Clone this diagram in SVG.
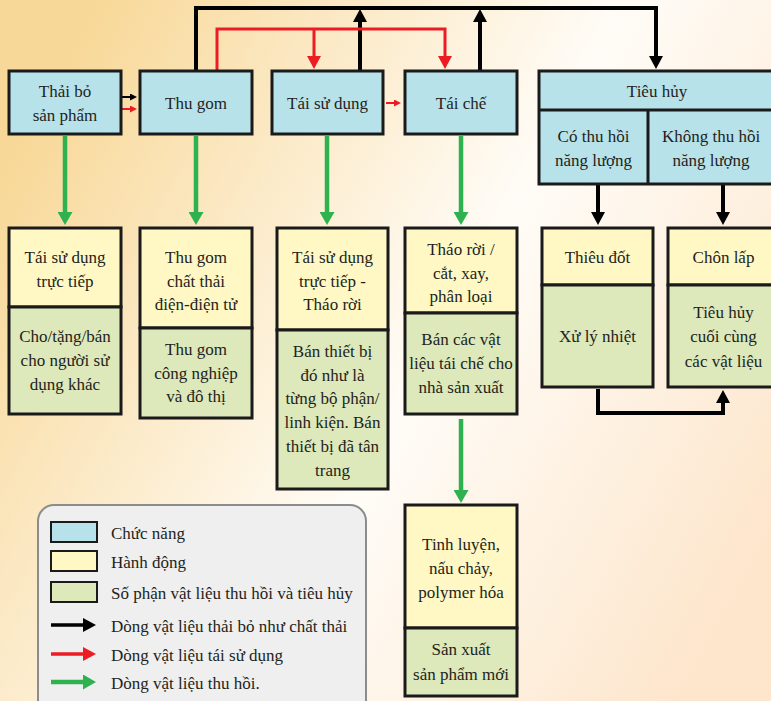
<svg xmlns="http://www.w3.org/2000/svg" width="771" height="701" viewBox="0 0 771 701">
<defs>
<linearGradient id="bg" x1="0" y1="0.25" x2="1" y2="0.75">
<stop offset="0" stop-color="#f8d898"/>
<stop offset="0.55" stop-color="#fffcf7"/>
<stop offset="1" stop-color="#fde6cc"/>
</linearGradient>
<marker id="mk-black" markerUnits="userSpaceOnUse" markerWidth="13" markerHeight="14" refX="3" refY="7" orient="auto"><path d="M0,0 L13,7 L0,14 z" fill="#000"/></marker>
<marker id="mk-red" markerUnits="userSpaceOnUse" markerWidth="13" markerHeight="14" refX="3" refY="7" orient="auto"><path d="M0,0 L13,7 L0,14 z" fill="#ed1c24"/></marker>
<marker id="mk-green" markerUnits="userSpaceOnUse" markerWidth="13" markerHeight="15" refX="3" refY="7.5" orient="auto"><path d="M0,0 L13,7.5 L0,15 z" fill="#2db24f"/></marker>
<marker id="mk-black-s" markerUnits="userSpaceOnUse" markerWidth="7" markerHeight="7" refX="1" refY="3.5" orient="auto"><path d="M0,0 L7,3.5 L0,7 z" fill="#000"/></marker>
<marker id="mk-red-s" markerUnits="userSpaceOnUse" markerWidth="7" markerHeight="7" refX="1" refY="3.5" orient="auto"><path d="M0,0 L7,3.5 L0,7 z" fill="#ed1c24"/></marker>
</defs>
<style>
text{font-family:"Liberation Serif","Times New Roman",serif;font-size:17px;fill:#231f20;text-anchor:middle}
.leg text{text-anchor:start}
.box{stroke:#1a1a1a;stroke-width:3}
.blue{fill:#b8e2ea}
.yel{fill:#fff8c4}
.grn{fill:#dde8bb}
.div{stroke:#1a1a1a;stroke-width:3;fill:none}
.bk{fill:none;stroke:#000;stroke-width:4;marker-end:url(#mk-black)}
.bk0{fill:none;stroke:#000;stroke-width:4}
.rd{fill:none;stroke:#ed1c24;stroke-width:3;marker-end:url(#mk-red)}
.rd0{fill:none;stroke:#ed1c24;stroke-width:3}
.gr{fill:none;stroke:#2db24f;stroke-width:4.5;marker-end:url(#mk-green)}
.bks{fill:none;stroke:#000;stroke-width:2;marker-end:url(#mk-black-s)}
.rds{fill:none;stroke:#ed1c24;stroke-width:2;marker-end:url(#mk-red-s)}
</style>
<rect x="0" y="0" width="771" height="701" fill="url(#bg)"/>

<g id="connectors">
<path class="bk" d="M196,71 V8 H656 V59"/>
<path class="bk" d="M360,71 V19"/>
<path class="bk" d="M480,71 V19"/>
<path class="rd" d="M217,71 V29 H445 V59"/>
<path class="rd" d="M314,29 V59"/>
<path class="bks" d="M122,97 H131"/>
<path class="rds" d="M122,109 H131"/>
<path class="rds" d="M386,103 H395"/>
<path class="gr" d="M65,136 V215"/>
<path class="gr" d="M196,136 V215"/>
<path class="gr" d="M327,136 V215"/>
<path class="gr" d="M461,136 V215"/>
<path class="gr" d="M461,419 V493"/>
<path class="bk" d="M598,185 V215"/>
<path class="bk" d="M723,185 V215"/>
<path class="bk" d="M598,389 V413 H723 V400"/>
</g>

<g id="thai-bo">
<rect class="box blue" x="9" y="71" width="112" height="63"/>
<text x="65" y="97">Thải bỏ</text>
<text x="65" y="121">sản phẩm</text>
</g>
<g id="thu-gom">
<rect class="box blue" x="140" y="71" width="112" height="63"/>
<text x="196" y="109">Thu gom</text>
</g>
<g id="tai-su-dung">
<rect class="box blue" x="272" y="71" width="111" height="63"/>
<text x="327.5" y="109">Tái sử dụng</text>
</g>
<g id="tai-che">
<rect class="box blue" x="405" y="71" width="112" height="63"/>
<text x="461" y="109">Tái chế</text>
</g>
<g id="tieu-huy">
<rect class="box blue" x="539" y="71" width="236" height="113"/>
<path class="div" d="M539,110 H775 M648,110 V184"/>
<text x="657" y="97">Tiêu hủy</text>
<text x="593.5" y="142">Có thu hồi</text>
<text x="593.5" y="166">năng lượng</text>
<text x="711" y="142">Không thu hồi</text>
<text x="711" y="166">năng lượng</text>
</g>

<g id="tai-su-dung-truc-tiep">
<rect class="box yel" x="9" y="228" width="112" height="79"/>
<rect class="box grn" x="9" y="307" width="112" height="107"/>
<text x="65" y="263">Tái sử dụng</text>
<text x="65" y="287">trực tiếp</text>
<text x="65" y="342">Cho/tặng/bán</text>
<text x="65" y="366">cho người sử</text>
<text x="65" y="390">dụng khác</text>
</g>
<g id="thu-gom-chat-thai">
<rect class="box yel" x="140" y="228" width="112" height="100"/>
<rect class="box grn" x="140" y="328" width="112" height="90"/>
<text x="196" y="263">Thu gom</text>
<text x="196" y="287">chất thải</text>
<text x="196" y="310">điện-điện tử</text>
<text x="196" y="355">Thu gom</text>
<text x="196" y="379">công nghiệp</text>
<text x="196" y="402">và đô thị</text>
</g>
<g id="thao-roi-tsd">
<rect class="box yel" x="277" y="228" width="111" height="102"/>
<rect class="box grn" x="277" y="330" width="111" height="159"/>
<text x="332.5" y="263">Tái sử dụng</text>
<text x="332.5" y="287">trực tiếp -</text>
<text x="332.5" y="310">Tháo rời</text>
<text x="332.5" y="357">Bán thiết bị</text>
<text x="332.5" y="381">đó như là</text>
<text x="332.5" y="404">từng bộ phận/</text>
<text x="332.5" y="428">linh kiện. Bán</text>
<text x="332.5" y="452">thiết bị đã tân</text>
<text x="332.5" y="476">trang</text>
</g>
<g id="thao-roi-cat">
<rect class="box yel" x="405" y="228" width="112" height="85"/>
<rect class="box grn" x="405" y="313" width="112" height="101"/>
<text x="461" y="255">Tháo rời /</text>
<text x="461" y="279">cắt, xay,</text>
<text x="461" y="302">phân loại</text>
<text x="461" y="345">Bán các vật</text>
<text x="461" y="369">liệu tái chế cho</text>
<text x="461" y="393">nhà sản xuất</text>
</g>
<g id="thieu-dot">
<rect class="box yel" x="542" y="228" width="111" height="57"/>
<rect class="box grn" x="542" y="285" width="111" height="102"/>
<text x="597.5" y="263">Thiêu đốt</text>
<text x="597.5" y="342">Xử lý nhiệt</text>
</g>
<g id="chon-lap">
<rect class="box yel" x="668" y="228" width="111" height="57"/>
<rect class="box grn" x="668" y="285" width="111" height="102"/>
<text x="723.5" y="263">Chôn lấp</text>
<text x="723.5" y="318">Tiêu hủy</text>
<text x="723.5" y="342">cuối cùng</text>
<text x="723.5" y="367">các vật liệu</text>
</g>
<g id="tinh-luyen">
<rect class="box yel" x="405" y="505" width="112" height="123"/>
<rect class="box grn" x="405" y="628" width="112" height="68"/>
<text x="461" y="550">Tinh luyện,</text>
<text x="461" y="574">nấu chảy,</text>
<text x="461" y="598">polymer hóa</text>
<text x="461" y="655">Sản xuất</text>
<text x="461" y="680">sản phẩm mới</text>
</g>

<g id="legend" class="leg">
<rect x="38" y="505" width="328" height="215" rx="16" ry="16" fill="#efefef" stroke="#8c8c8c" stroke-width="2"/>
<rect x="51" y="522" width="46" height="20" fill="#b8e2ea" stroke="#1a1a1a" stroke-width="2"/>
<rect x="51" y="551" width="46" height="20" fill="#fff8c4" stroke="#1a1a1a" stroke-width="2"/>
<rect x="51" y="582" width="46" height="20" fill="#dde8bb" stroke="#1a1a1a" stroke-width="2"/>
<path d="M51,625 H86" fill="none" stroke="#000" stroke-width="3.5" marker-end="url(#mk-black)"/>
<path d="M51,654 H86" fill="none" stroke="#ed1c24" stroke-width="3.5" marker-end="url(#mk-red)"/>
<path d="M51,682 H86" fill="none" stroke="#2db24f" stroke-width="4.5" marker-end="url(#mk-green)"/>
<text x="111" y="539">Chức năng</text>
<text x="111" y="568">Hành động</text>
<text x="111" y="599">Số phận vật liệu thu hồi và tiêu hủy</text>
<text x="111" y="632">Dòng vật liệu thải bỏ như chất thải</text>
<text x="111" y="661">Dòng vật liệu tái sử dụng</text>
<text x="111" y="689">Dòng vật liệu thu hồi.</text>
</g>
</svg>
